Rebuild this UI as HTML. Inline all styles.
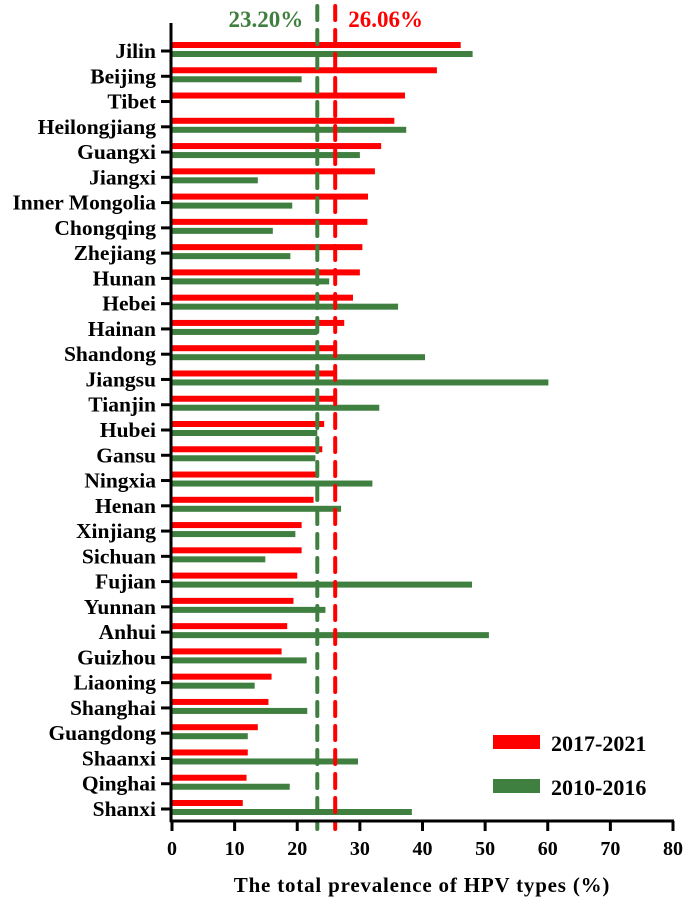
<!DOCTYPE html>
<html><head><meta charset="utf-8"><style>
body{margin:0;background:#fff;}
svg text{font-family:"Liberation Serif",serif;font-weight:bold;}
</style></head><body>
<svg id="chart" width="685" height="898" xmlns="http://www.w3.org/2000/svg"></svg>
<script>
const categories=["Jilin","Beijing","Tibet","Heilongjiang","Guangxi","Jiangxi","Inner Mongolia","Chongqing","Zhejiang","Hunan","Hebei","Hainan","Shandong","Jiangsu","Tianjin","Hubei","Gansu","Ningxia","Henan","Xinjiang","Sichuan","Fujian","Yunnan","Anhui","Guizhou","Liaoning","Shanghai","Guangdong","Shaanxi","Qinghai","Shanxi"];
const values2017=[46.1,42.3,37.2,35.5,33.4,32.4,31.3,31.2,30.4,30.0,28.9,27.5,26.2,25.9,25.8,24.3,24.0,23.1,22.6,20.7,20.7,20.0,19.4,18.4,17.5,15.9,15.4,13.7,12.1,11.9,11.3];
const values2010=[48.0,20.7,null,37.4,30.0,13.7,19.2,16.1,18.9,25.1,36.1,23.2,40.4,60.1,33.1,23.2,22.9,32.0,27.0,19.7,14.9,47.9,24.5,50.6,21.5,13.2,21.6,12.1,29.7,18.8,38.3];
const xTicks=[0,10,20,30,40,50,60,70,80];
const mean2017=26.06, mean2010=23.20;
const RED="#ff0000", GREEN="#3f7f3f";
const svg=document.getElementById('chart');
const NS="http://www.w3.org/2000/svg";
function el(tag,attrs,parent){const e=document.createElementNS(NS,tag);for(const k in attrs)e.setAttribute(k,attrs[k]);(parent||svg).appendChild(e);return e;}
const x=v=>172+v*(673-172)/80;
const y=i=>51+i*(809-51)/30;
categories.forEach((c,i)=>{
  const lab=el('text',{x:156,y:y(i)+7,'text-anchor':'end','font-size':21.5,fill:'#000'});
  lab.textContent=c;
  
  
  const t=el('line',{x1:161,x2:172,y1:y(i),y2:y(i),stroke:'#000','stroke-width':3});
  
  
  if(values2017[i]!=null){
    const r=el('rect',{x:x(0),y:y(i)-9,width:x(values2017[i])-x(0),height:6,fill:RED});
    
    
  }
  if(values2010[i]!=null){
    const g=el('rect',{x:x(0),y:y(i),width:x(values2010[i])-x(0),height:6,fill:GREEN});
    
    
  }
});
const gl=el('line',{x1:x(mean2010),x2:x(mean2010),y1:6,y2:829,stroke:GREEN,'stroke-width':4,'stroke-dasharray':'14 10','stroke-linecap':'round'});


const rl=el('line',{x1:x(mean2017),x2:x(mean2017),y1:6,y2:829,stroke:RED,'stroke-width':4,'stroke-dasharray':'14 10','stroke-linecap':'round'});


const gt=el('text',{x:x(mean2010)-14,y:27,'text-anchor':'end','font-size':23,fill:GREEN});
gt.textContent=mean2010.toFixed(2)+'%';


const rt=el('text',{x:x(mean2017)+13,y:27,'font-size':23,fill:RED});
rt.textContent=mean2017.toFixed(2)+'%';


const ya=el('line',{x1:171,x2:171,y1:23,y2:822,stroke:'#000','stroke-width':3});


const xa=el('line',{x1:170,x2:674,y1:821,y2:821,stroke:'#000','stroke-width':3});


xTicks.forEach(v=>{
  const t=el('line',{x1:x(v),x2:x(v),y1:821,y2:831,stroke:'#000','stroke-width':3});
  
  
  const l=el('text',{x:x(v),y:855,'text-anchor':'middle','font-size':20,fill:'#000'});
  l.textContent=v;
  
  
});
const xt=el('text',{x:422,y:892,'text-anchor':'middle','font-size':21,fill:'#000','letter-spacing':'0.8'});
xt.textContent='The total prevalence of HPV types (%)';


const lr=el('rect',{x:493,y:735,width:47,height:14,fill:RED});


const lrt=el('text',{x:551,y:751,'font-size':22,fill:'#000'});
lrt.textContent='2017-2021';


const lg=el('rect',{x:493,y:779,width:47,height:14,fill:GREEN});


const lgt=el('text',{x:551,y:795,'font-size':22,fill:'#000'});
lgt.textContent='2010-2016';


</script>
</body></html>
